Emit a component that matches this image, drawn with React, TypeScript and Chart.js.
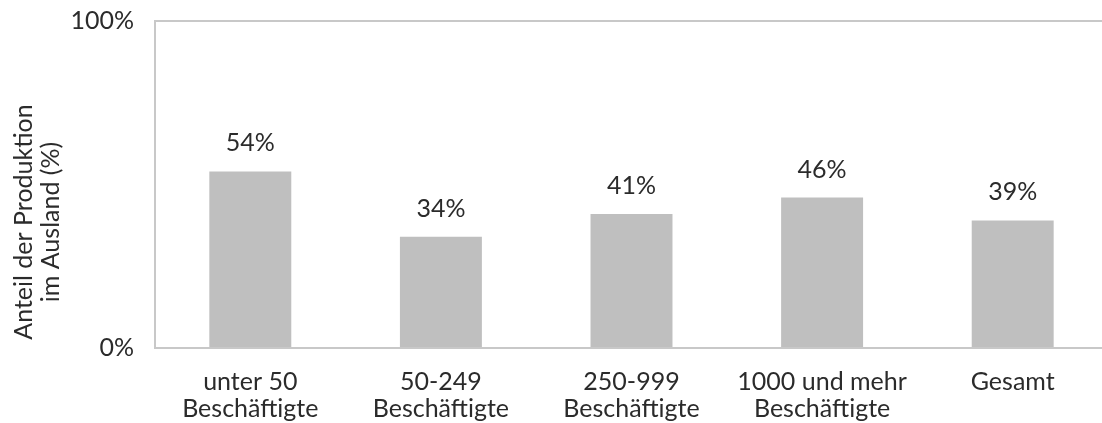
import React, { useEffect, useRef } from "react";
import { Chart, registerables } from "chart.js";

Chart.register(...registerables);

const categories: string[][] = [
  ["unter 50", "Beschäftigte"],
  ["50-249", "Beschäftigte"],
  ["250-999", "Beschäftigte"],
  ["1000 und mehr", "Beschäftigte"],
  ["Gesamt"],
];
const shares: number[] = [54, 34, 41, 46, 39];
const yTicks: number[] = [0, 100];
const yTitleLines: string[] = ["Anteil der Produktion", "im Ausland (%)"];

const FONT = "Lato, 'Open Sans', sans-serif";
const FS = 25;
const TEXT = "#2b2b2b";
const LINE = "#C8C8C8";
const BAR = "#BFBFBF";

const valueLabels = {
  id: "valueLabels",
  afterDatasetsDraw(chart: any) {
    const { ctx } = chart;
    const meta = chart.getDatasetMeta(0);
    ctx.save();
    ctx.font = `${FS}px ${FONT}`;
    ctx.fillStyle = TEXT;
    ctx.textAlign = "center";
    ctx.textBaseline = "alphabetic";
    meta.data.forEach((el: any, i: number) => {
      ctx.fillText(`${shares[i]}%`, el.x, el.y - 20);
    });
    ctx.restore();
  },
};

const yTitle = {
  id: "yTitle",
  afterDraw(chart: any) {
    const { ctx } = chart;
    ctx.save();
    ctx.font = `${FS}px ${FONT}`;
    ctx.fillStyle = TEXT;
    ctx.textAlign = "center";
    ctx.textBaseline = "alphabetic";
    const cy = 222;
    const baselines = [32, 59];
    yTitleLines.forEach((line, i) => {
      ctx.save();
      ctx.translate(baselines[i], cy);
      ctx.rotate(-Math.PI / 2);
      ctx.fillText(line, 0, 0);
      ctx.restore();
    });
    ctx.restore();
  },
};

export default function App() {
  const ref = useRef<HTMLCanvasElement | null>(null);
  useEffect(() => {
    if (!ref.current) return;
    const chart = new Chart(ref.current, {
      type: "bar",
      data: {
        labels: categories,
        datasets: [
          {
            data: shares,
            backgroundColor: BAR,
            borderWidth: 0,
            categoryPercentage: 1,
            barPercentage: 0.43,
          },
        ],
      },
      options: {
        responsive: false,
        animation: false,
        layout: { padding: { left: 0, right: 2, top: 21, bottom: 0 } },
        plugins: {
          legend: { display: false },
          tooltip: { enabled: false },
          title: { display: false },
        },
        scales: {
          x: {
            grid: { display: false, drawTicks: false },
            border: { display: true, color: LINE, width: 2 },
            ticks: {
              color: TEXT,
              font: { family: FONT, size: FS, lineHeight: 1.08 },
              padding: 20,
              maxRotation: 0,
              autoSkip: false,
            },
            afterFit(scale: any) {
              scale.height = 75;
              scale.paddingLeft = 0;
              scale.paddingRight = 0;
            },
          },
          y: {
            min: yTicks[0],
            max: yTicks[yTicks.length - 1],
            afterBuildTicks(scale: any) {
              scale.ticks = yTicks.map((v) => ({ value: v }));
            },
            grid: { color: LINE, lineWidth: 2, drawTicks: false },
            border: { display: true, color: LINE, width: 2 },
            ticks: {
              color: TEXT,
              font: { family: FONT, size: FS },
              padding: 21,
              callback: (v: any) => `${v}%`,
            },
            afterFit(scale: any) {
              scale.width = 155;
              scale.paddingTop = 0;
              scale.paddingBottom = 0;
            },
          },
        },
      },
      plugins: [valueLabels, yTitle],
    });
    return () => chart.destroy();
  }, []);

  return (
    <div
      style={{
        position: "fixed",
        left: 0,
        top: 0,
        width: 1102,
        height: 423,
        overflow: "hidden",
        background: "#fff",
      }}
    >
      <canvas ref={ref} width={1110} height={423} style={{ display: "block" }} />
    </div>
  );
}
